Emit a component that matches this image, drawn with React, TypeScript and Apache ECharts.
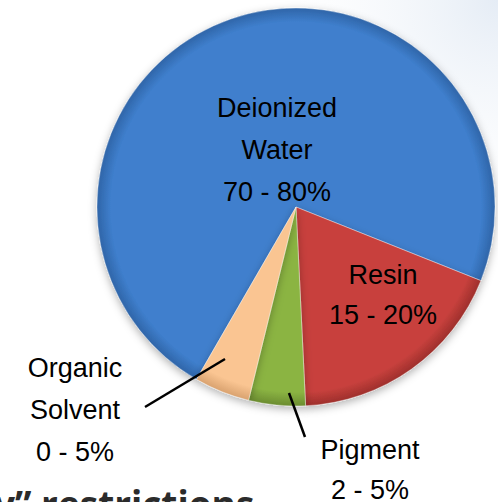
import React, { useEffect, useRef } from "react";
import * as echarts from "echarts";

const categories = ["Deionized Water", "Resin", "Pigment", "Organic Solvent"];
const rangeLabels = ["70 - 80%", "15 - 20%", "2 - 5%", "0 - 5%"];
const labelNames = ["Deionized\nWater", "Resin", "Pigment", "Organic\nSolvent"];
const values = [72.7, 18.2, 4.6, 4.5];

const baseColors = ["#3f7fcd", "#c8413d", "#8bb443", "#fac592"];
const rimColors = ["#2f65a8", "#9e2f2c", "#6b8c30", "#d9a26f"];

const CX = 296;
const CY = 207;
const R = 199;

export default function App() {
  const ref = useRef<HTMLDivElement>(null);
  useEffect(() => {
    if (!ref.current) return;
    const chart = echarts.init(ref.current, undefined, { renderer: "svg" });

    const labelPos: Record<number, any> = {
      0: { x: 277, y: 150 },
      1: { x: 383, y: 295 },
      2: { x: 370, y: 470, line: [[289, 393], [297, 415], [305, 437]] },
      3: { x: 75, y: 410, line: [[225, 359], [185, 383], [145, 407]] },
    };

    const sliceData = categories.map((name, i) => ({
      name,
      value: values[i],
      itemStyle: {
        color: new echarts.graphic.RadialGradient(
          CX,
          CY,
          R,
          [
            { offset: 0, color: baseColors[i] },
            { offset: 0.93, color: baseColors[i] },
            { offset: 1, color: rimColors[i] },
          ],
          true
        ),
      },
    }));

    const labelData = categories.map((name, i) => ({
      name,
      value: values[i],
      label: {
        position: i < 2 ? "inside" : "outside",
        formatter: labelNames[i] + "\n" + rangeLabels[i],
        lineHeight: i === 1 || i === 2 ? 40 : 42,
      },
      labelLine: { show: i >= 2 },
    }));

    chart.setOption({
      animation: false,
      backgroundColor: "#ffffff",
      graphic: [
        {
          type: "rect",
          shape: { x: 300, y: 0, width: 198, height: 502 },
          style: {
            fill: new echarts.graphic.RadialGradient(
              498,
              0,
              260,
              [
                { offset: 0, color: "rgba(226,234,244,0.9)" },
                { offset: 1, color: "rgba(255,255,255,0)" },
              ],
              true
            ),
          },
          z: -10,
          silent: true,
        },
        {
          type: "text",
          x: -6,
          y: 485,
          style: {
            text: "y\u201d restrictions",
            font: "bold 37px 'Open Sans', sans-serif",
            fill: "#2b2b2b",
            verticalAlign: "top",
          },
          z: 10,
        },
      ],
      series: [
        {
          type: "pie",
          center: [CX, CY],
          radius: [0, R],
          startAngle: 240,
          clockwise: true,
          data: sliceData,
          itemStyle: {
            borderColor: "rgba(255,255,255,0.35)",
            borderWidth: 1,
            shadowBlur: 8,
            shadowColor: "rgba(0,0,0,0.3)",
            shadowOffsetY: 3,
          },
          label: { show: false },
          labelLine: { show: false },
          emphasis: { disabled: true },
          silent: true,
        },
        {
          type: "pie",
          center: [CX, CY],
          radius: [0, R],
          startAngle: 240,
          clockwise: true,
          data: labelData,
          itemStyle: { color: "rgba(0,0,0,0)", borderWidth: 0 },
          label: {
            show: true,
            color: "#000000",
            fontSize: 27,
            fontFamily: "'Liberation Sans', Arial, sans-serif",
            align: "center",
            overflow: "none",
            width: 200,
          },
          labelLine: {
            lineStyle: { color: "#000000", width: 2.5 },
          },
          labelLayout: (params: any) => {
            const p = labelPos[params.dataIndex];
            const out: any = {
              x: p.x,
              y: p.y,
              align: "center",
              verticalAlign: "middle",
            };
            if (p.line) out.labelLinePoints = p.line;
            return out;
          },
          emphasis: { disabled: true },
          silent: true,
          z: 5,
        },
      ],
    });
    return () => chart.dispose();
  }, []);

  return (
    <div
      ref={ref}
      style={{ position: "fixed", left: 0, top: 0, width: 498, height: 502 }}
    />
  );
}
